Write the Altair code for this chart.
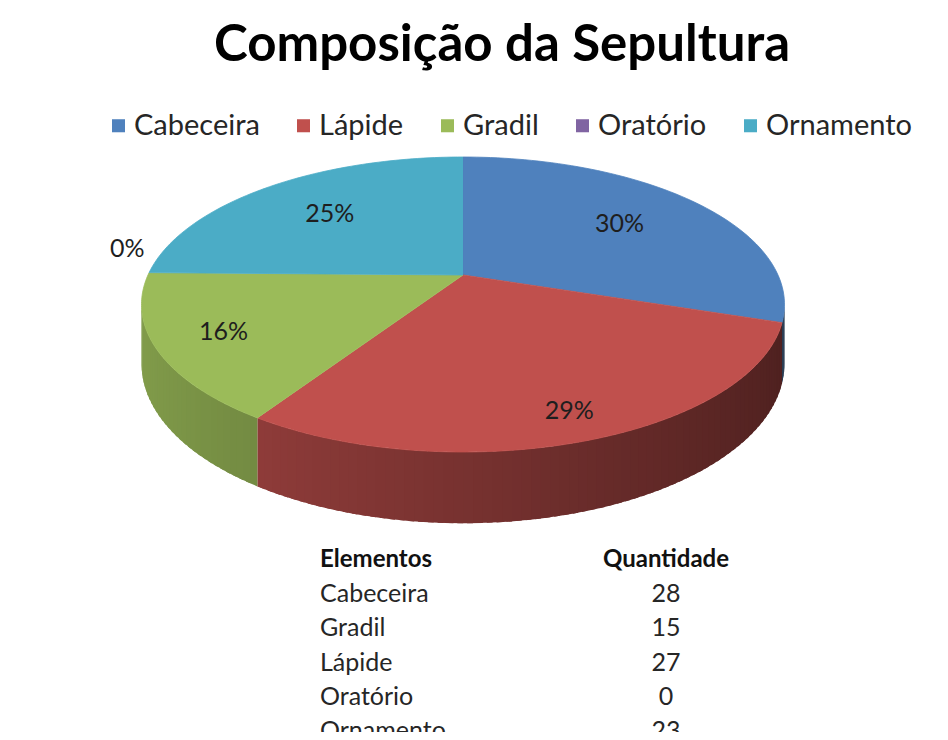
import altair as alt
import pandas as pd

# ---------------- data ----------------
title_text = "Composição da Sepultura"
categories = ["Cabeceira", "Lápide", "Gradil", "Oratório", "Ornamento"]
quantities = [28, 27, 15, 0, 23]
colors = ["#4F81BD", "#C0504D", "#9BBB59", "#8064A2", "#4BACC6"]
table_header = ["Elementos", "Quantidade"]

df = pd.DataFrame({"cat": categories, "qty": quantities, "color": colors,
                   "idx": list(range(len(categories)))})
hdr = pd.DataFrame({"t": table_header, "col": [0, 1]})

# ---------------- layout (page pixels) ----------------
PAD_TOP = 95
W, H = 932, 724 - PAD_TOP
X0, X1 = 8, 8 + W
Y0, Y1 = 8 + PAD_TOP, 8 + PAD_TOP + H
CX, CY = 463, 275          # pie centre
A, B = 315, 141.6          # horizontal / depth radii
PERSP = 0.2                # perspective factor
DEPTH = 57                 # thickness of the pie
N = 72                     # points per slice edge
STEP = 0.025               # side strip width (rad)
FONT = "Lato"

xs = alt.X("px:Q", scale=alt.Scale(domain=[X0, X1], nice=False, zero=False), axis=None)
ys = alt.Y("py:Q", scale=alt.Scale(domain=[Y0, Y1], nice=False, zero=False, reverse=True), axis=None)

base = alt.Chart(df).transform_joinaggregate(
    total="sum(qty)"
).transform_window(
    cum="sum(qty)", sort=[alt.SortField("idx")], frame=[None, 0]
).transform_calculate(
    a0="(datum.cum - datum.qty) / datum.total * 2 * PI",
    a1="datum.cum / datum.total * 2 * PI",
)

# ---------------- side of the pie ----------------
side = base.transform_calculate(
    s0=f"max(datum.a0, PI / 2 + asin({PERSP}))",
    s1=f"min(datum.a1, 3 * PI / 2 - asin({PERSP}))",
).transform_filter("datum.s1 > datum.s0").transform_calculate(
    n=f"ceil((datum.s1 - datum.s0) / {STEP})"
).transform_calculate(
    js="sequence(0, datum.n)"
).transform_flatten(["js"], as_=["j"]).transform_calculate(
    b0="datum.s0 + (datum.s1 - datum.s0) * datum.j / datum.n",
    b1=f"min(datum.s1, datum.s0 + (datum.s1 - datum.s0) * (datum.j + 1) / datum.n + {STEP} * 0.6)",
).transform_calculate(
    f="0.62 - 0.22 * sin((datum.b0 + datum.b1) / 2)"
).transform_calculate(
    shade="'rgb(' + round(rgb(datum.color).r * datum.f) + ',' + round(rgb(datum.color).g * datum.f) + ',' + round(rgb(datum.color).b * datum.f) + ')'",
    strip="datum.cat + '_' + datum.j",
    cs="[0, 1, 2, 3]",
).transform_flatten(["cs"], as_=["c"]).transform_calculate(
    ang="(datum.c == 0 || datum.c == 3) ? datum.b0 : datum.b1",
    drop=f"datum.c >= 2 ? {DEPTH} : 0",
).transform_calculate(
    X="sin(datum.ang)", Z="-cos(datum.ang)"
).transform_calculate(
    px=f"{CX} + {A} * datum.X / (1 - {PERSP} * datum.Z)",
    py=f"{CY} + ({B} * datum.Z + datum.drop) / (1 - {PERSP} * datum.Z)",
).mark_line(filled=True, strokeWidth=0).encode(
    x=xs, y=ys, order="c:Q", detail="strip:N",
    fill=alt.Fill("shade:N", scale=None),
)

# ---------------- top face ----------------
top = base.transform_filter("datum.qty > 0").transform_calculate(
    ks=f"sequence(0, {N + 2})"
).transform_flatten(["ks"], as_=["k"]).transform_calculate(
    ang=f"datum.a0 + (datum.a1 - datum.a0) * (datum.k - 1) / {N}"
).transform_calculate(
    X="datum.k == 0 ? 0 : sin(datum.ang)",
    Z="datum.k == 0 ? 0 : -cos(datum.ang)",
).transform_calculate(
    px=f"{CX} + {A} * datum.X / (1 - {PERSP} * datum.Z)",
    py=f"{CY} + {B} * datum.Z / (1 - {PERSP} * datum.Z)",
).mark_line(filled=True, strokeWidth=0.8).encode(
    x=xs, y=ys, order="k:Q", detail="cat:N",
    color=alt.Color(
        "cat:N",
        scale=alt.Scale(domain=categories, range=colors),
        legend=alt.Legend(
            title=None, orient="none", direction="horizontal", columns=5,
            legendX=96, legendY=8, symbolType="square", symbolSize=170,
            symbolStrokeWidth=0, labelFont=FONT, labelFontSize=29,
            labelColor="#262626", labelOffset=1, columnPadding=29,
            labelLimit=300,
        ),
    ),
    stroke=alt.Stroke("color:N", scale=None),
)

# ---------------- percentage labels ----------------
labels = base.transform_calculate(
    m="(datum.a0 + datum.a1) / 2",
    pct="round(datum.qty / datum.total * 100) + '%'",
).transform_calculate(
    Zm="-cos(datum.m)", Xm="sin(datum.m)"
).transform_calculate(
    r="datum.qty > 0 ? 0.66 + 0.2 * sqrt(max(0, datum.Zm)) : 1.07"
).transform_calculate(
    px=f"{CX} + {A} * datum.r * datum.Xm / (1 - {PERSP} * datum.r * datum.Zm)",
    py=f"{CY} + {B} * datum.r * datum.Zm / (1 - {PERSP} * datum.r * datum.Zm) - (datum.qty > 0 ? 0 : 23)",
).mark_text(font=FONT, fontSize=25, color="#1e1e1e").encode(
    x=xs, y=ys, text="pct:N"
)

# ---------------- data table below ----------------
T0, TS = 560, 34.2
rows = alt.Chart(df).transform_window(
    row="row_number()", sort=[alt.SortField("cat")]
).transform_calculate(py=f"{T0} + {TS} * datum.row")

names = rows.transform_calculate(px="320").mark_text(
    align="left", font=FONT, fontSize=25, color="#262626"
).encode(x=xs, y=ys, text="cat:N")

qtys = rows.transform_calculate(px="666").mark_text(
    align="center", font=FONT, fontSize=25, color="#262626"
).encode(x=xs, y=ys, text="qty:Q")

hdr_base = alt.Chart(hdr).transform_calculate(py=f"{T0}")
hdr_left = hdr_base.transform_filter("datum.col == 0").transform_calculate(px="320").mark_text(
    align="left", font=FONT, fontSize=24, fontWeight="bold", color="#111"
).encode(x=xs, y=ys, text="t:N")
hdr_right = hdr_base.transform_filter("datum.col == 1").transform_calculate(px="666").mark_text(
    align="center", font=FONT, fontSize=24, fontWeight="bold", color="#111"
).encode(x=xs, y=ys, text="t:N")

chart = alt.layer(side, top, labels, names, qtys, hdr_left, hdr_right).properties(
    width=W, height=H,
    title=alt.Title(title_text, font=FONT, fontSize=51, fontWeight="bold",
                    anchor="middle", color="#000", offset=31, dx=28),
    autosize=alt.AutoSizeParams(type="none"),
    padding={"left": 0, "right": 0, "top": PAD_TOP, "bottom": 0},
).configure_view(stroke=None)

chart.save("out.html", embed_options={"renderer": "svg", "actions": False})
